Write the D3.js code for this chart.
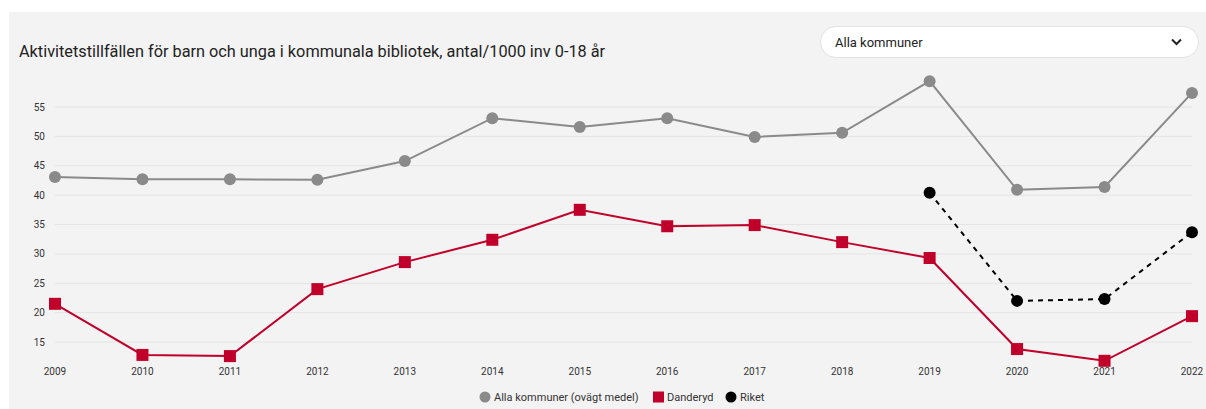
<!DOCTYPE html>
<html><head><meta charset="utf-8">
<script src="https://cdn.jsdelivr.net/npm/d3@7"></script>
<style>
html,body{margin:0;padding:0;background:#fff;}
svg{display:block;font-family:Roboto, "Liberation Sans", Arial, sans-serif;}
</style></head>
<body><svg id="c" width="1206" height="409"></svg>
<script>
const years = [2009,2010,2011,2012,2013,2014,2015,2016,2017,2018,2019,2020,2021,2022];
const allaKommuner = [43.1,42.7,42.7,42.6,45.8,53.1,51.6,53.1,49.9,50.6,59.4,40.9,41.4,57.4];
const danderyd = [21.5,12.8,12.6,24.0,28.6,32.4,37.5,34.7,34.9,32.0,29.3,13.8,11.8,19.4];
const riket = [null,null,null,null,null,null,null,null,null,null,40.4,22.0,22.3,33.7];
const yTicks = [15,20,25,30,35,40,45,50,55];
const title = "Aktivitetstillfällen för barn och unga i kommunala bibliotek, antal/1000 inv 0-18 år";
const legendLabels = ["Alla kommuner (ovägt medel)","Danderyd","Riket"];

const svg = d3.select("#c");
svg.append("rect").attr("x",9).attr("y",12).attr("width",1197).attr("height",397).attr("fill","#f3f3f3");

svg.append("text").attr("x",19).attr("y",57).attr("font-size",16.3).attr("fill","#222").text(title);

// dropdown
const dd = svg.append("g");
dd.append("rect").attr("x",820.5).attr("y",26.5).attr("width",378).attr("height",31).attr("rx",15.5)
  .attr("fill","#fff").attr("stroke","#e2e2e2");
dd.append("text").attr("x",835).attr("y",46.5).attr("font-size",13).attr("fill","#222").text("Alla kommuner");
dd.append("path").attr("d","M1172,39.5 l4.5,4.5 l4.5,-4.5").attr("fill","none").attr("stroke","#222").attr("stroke-width",2);

const x = d3.scalePoint().domain(years).range([55,1192]);
const y = d3.scaleLinear().domain([15,55]).range([342,107]);

// grid
svg.append("g").selectAll("line").data(yTicks).join("line")
  .attr("x1",55).attr("x2",1192).attr("y1",d=>y(d)).attr("y2",d=>y(d))
  .attr("stroke","#e4e4e4").attr("stroke-width",1);
svg.append("g").selectAll("text").data(yTicks).join("text")
  .attr("x",45).attr("y",d=>y(d)+3.5).attr("text-anchor","end").attr("font-size",10).attr("fill","#333").text(d=>d);
svg.append("g").selectAll("text").data(years).join("text")
  .attr("x",d=>x(d)).attr("y",375).attr("text-anchor","middle").attr("font-size",10).attr("fill","#333").text(d=>d);

function series(vals){ return years.map((yr,i)=>({yr,v:vals[i]})).filter(d=>d.v!=null); }
const line = d3.line().x(d=>x(d.yr)).y(d=>y(d.v));

const grey="#8a8a8a", red="#c0002b", black="#000";
// alla
svg.append("path").datum(series(allaKommuner)).attr("d",line).attr("fill","none").attr("stroke",grey).attr("stroke-width",2);
svg.append("g").selectAll("circle").data(series(allaKommuner)).join("circle")
  .attr("cx",d=>x(d.yr)).attr("cy",d=>y(d.v)).attr("r",6).attr("fill",grey);
// danderyd
svg.append("path").datum(series(danderyd)).attr("d",line).attr("fill","none").attr("stroke",red).attr("stroke-width",2);
svg.append("g").selectAll("rect").data(series(danderyd)).join("rect")
  .attr("x",d=>x(d.yr)-6).attr("y",d=>y(d.v)-6).attr("width",12).attr("height",12).attr("fill",red);
// riket
svg.append("path").datum(series(riket)).attr("d",line).attr("fill","none").attr("stroke",black).attr("stroke-width",2).attr("stroke-dasharray","5,5");
svg.append("g").selectAll("circle").data(series(riket)).join("circle")
  .attr("cx",d=>x(d.yr)).attr("cy",d=>y(d.v)).attr("r",6).attr("fill",black);

// legend
const lg = svg.append("g").attr("font-size",11).attr("fill","#333");
lg.append("circle").attr("cx",485).attr("cy",397).attr("r",5.5).attr("fill",grey);
lg.append("text").attr("x",494).attr("y",401).text(legendLabels[0]);
lg.append("rect").attr("x",653).attr("y",391.5).attr("width",11).attr("height",11).attr("fill",red);
lg.append("text").attr("x",667).attr("y",401).text(legendLabels[1]);
lg.append("circle").attr("cx",731).attr("cy",397).attr("r",5.5).attr("fill",black);
lg.append("text").attr("x",740).attr("y",401).text(legendLabels[2]);
</script></body></html>
